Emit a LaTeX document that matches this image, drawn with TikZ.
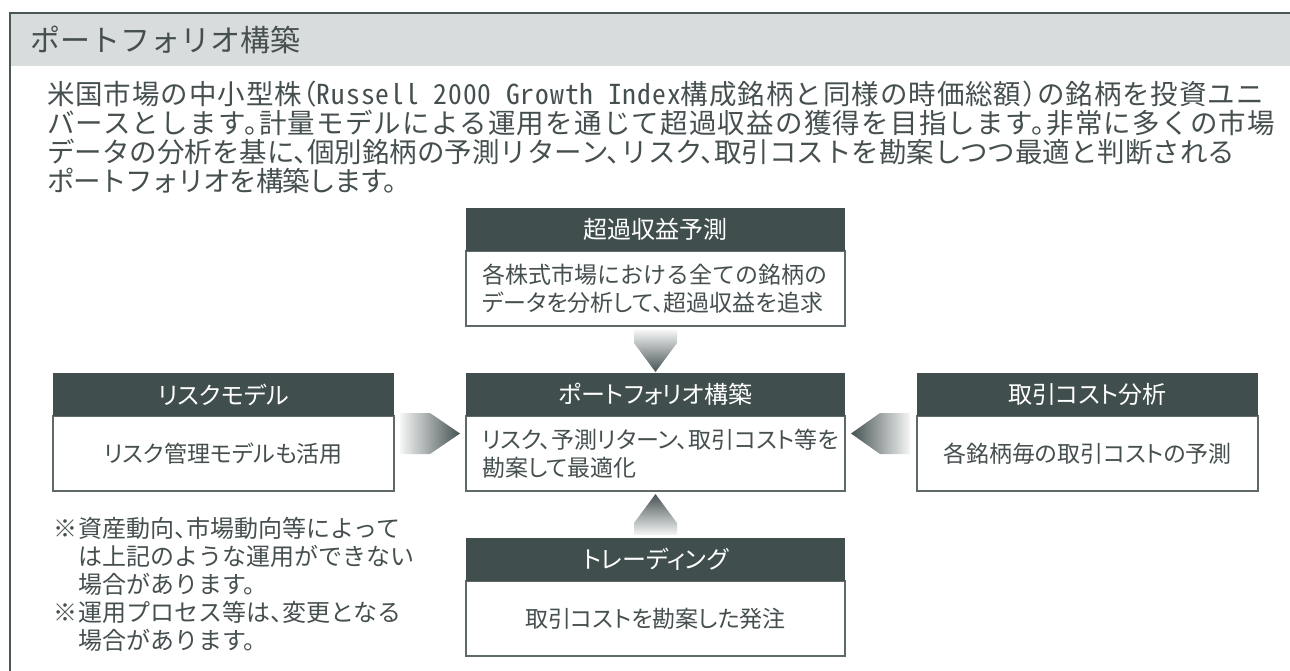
\documentclass[tikz,border=0pt]{standalone}
\usepackage{fontspec}
\newfontfamily\jp{Noto Sans CJK JP}[RawFeature=+palt]
\newfontfamily\jpw{Noto Sans CJK JP}[RawFeature=+halt]
\usetikzlibrary{calc}
\definecolor{hdr}{RGB}{64,78,78}
\definecolor{titlebg}{RGB}{216,220,221}
\definecolor{txt}{RGB}{70,79,79}
\definecolor{frm}{RGB}{75,86,86}
\definecolor{bdr}{RGB}{95,105,105}
\definecolor{arrD}{RGB}{70,82,82}
\definecolor{arrL}{RGB}{246,246,246}
\newcommand{\latinhw}[1]{{\addfontfeature{RawFeature=+hwid}#1}}
\newcommand{\lsp}[2]{{\addfontfeature{LetterSpace=#1}#2}}
\begin{document}
\begin{tikzpicture}[x=1pt,y=-1pt,
  every node/.style={inner sep=0pt, outer sep=0pt, font=\jp, text=txt},
  hdrbox/.style={fill=hdr, text=white, minimum height=43pt, font=\jp\fontsize{24}{27}\selectfont},
  bodybox/.style={draw=bdr, line width=1.2pt, fill=white, minimum height=75pt},
  bodytxt/.style={font=\jp\fontsize{23}{28}\selectfont, align=left},
  paratxt/.style={font=\jpw\fontsize{27.5}{29}\selectfont, anchor=base west},
  notetxt/.style={font=\jpw\fontsize{24}{28}\selectfont, anchor=base west},
  frameline/.style={draw=frm, line width=1.5pt}]
\useasboundingbox (0,0) rectangle (1290,671);
% frame and title bar
\fill[titlebg] (10,13) rectangle (1290,66);
\draw[frameline] (1290,13) -- (10,13) -- (10,671);
\node[anchor=west, font=\jpw\fontsize{30}{31}\selectfont] (title) at (30,40) {ポートフォリオ構築};
% paragraph
\node[paratxt] (p1) at (47,105) {\lsp{3.5}{米国市場の中小型株（\latinhw{Russell 2000 Growth Index}構成銘柄と同様の時価総額）の銘柄を投資ユニ}};
\node[paratxt] (p2) at (47,134) {\lsp{4.5}{バースとします。計量モデルによる運用を通じて超過収益の獲得を目指します。非常に多くの市場}};
\node[paratxt] (p3) at (47,163) {データの分析を基に、個別銘柄の予測リターン、リスク、取引コストを勘案しつつ最適と判断される};
\node[paratxt] (p4) at (47,192) {\lsp{-5}{ポートフォリオを構築します。}};
% top box
\node[bodybox, minimum width=379pt, anchor=north west] (tB) at (466,251) {};
\node[hdrbox, minimum width=379pt, anchor=south west] (tH) at (tB.north west) {超過収益予測};
\node[bodytxt, anchor=west] (tT) at ($(tB.west)+(16,0)$) {{\jpw 各株式市場における全ての銘柄の}\\データを分析して、超過収益を追求};
% center box
\node[bodybox, minimum width=379pt, anchor=north west] (cB) at (466,416) {};
\node[hdrbox, minimum width=379pt, anchor=south west] (cH) at (cB.north west) {ポートフォリオ構築};
\node[bodytxt, anchor=west] (cT) at ($(cB.west)+(16,0)$) {リスク、予測リターン、取引コスト等を\\勘案して最適化};
% left box
\node[bodybox, minimum width=341pt, anchor=north west] (lB) at (53,416) {};
\node[hdrbox, minimum width=341pt, anchor=south west] (lH) at (lB.north west) {リスクモデル};
\node[bodytxt] (lT) at (lB.center) {リスク管理モデルも活用};
% right box
\node[bodybox, minimum width=341pt, anchor=north west] (rB) at (917,416) {};
\node[hdrbox, minimum width=341pt, anchor=south west] (rH) at (rB.north west) {取引コスト分析};
\node[bodytxt] (rT) at (rB.center) {各銘柄毎の取引コストの予測};
% trading box
\node[bodybox, minimum width=379pt, anchor=north west] (bB) at (466,581) {};
\node[hdrbox, minimum width=379pt, anchor=south west] (bH) at (bB.north west) {トレーディング};
\node[bodytxt] (bT) at (bB.center) {取引コストを勘案した発注};
% block arrows
\shade[left color=arrL, right color=arrD] (400,413) -- (430,413) -- (460,433.5) -- (430,454) -- (400,454) -- cycle;
\shade[left color=arrD, right color=arrL] (910,413) -- (880,413) -- (851,433.5) -- (880,454) -- (910,454) -- cycle;
\shade[top color=arrL, bottom color=arrD] (634,330) -- (677,330) -- (677,343) -- (655.5,372) -- (634,343) -- cycle;
\shade[top color=arrD, bottom color=arrL] (634,535) -- (677,535) -- (677,523) -- (655.5,494) -- (634,523) -- cycle;
% notes
\node[notetxt] (n1m) at (53,537) {※};
\node[notetxt] (n1) at (78,537) {資産動向、市場動向等によって};
\node[notetxt] (n2) at (78,565) {は上記のような運用ができない};
\node[notetxt] (n3) at (78,593) {場合があります。};
\node[notetxt] (n4m) at (53,621) {※};
\node[notetxt] (n4) at (78,621) {運用プロセス等は、変更となる};
\node[notetxt] (n5) at (78,649) {場合があります。};
\end{tikzpicture}
\end{document}
